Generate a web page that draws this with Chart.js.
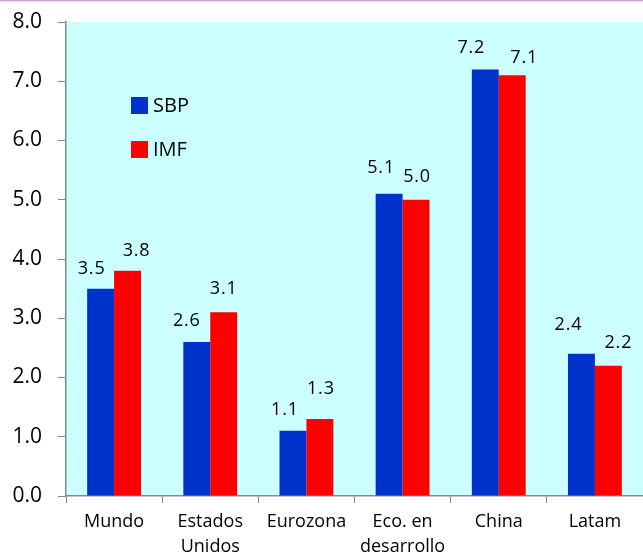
<!DOCTYPE html>
<html><head><meta charset="utf-8">
<script src="https://cdn.jsdelivr.net/npm/chart.js@4/dist/chart.umd.min.js"></script>
<style>html,body{margin:0;padding:0;background:#fff}#wrap{width:643px;height:556px}</style>
</head><body><div id="wrap"><canvas id="c" width="643" height="556"></canvas></div>
<script>
const categories = [["Mundo"], ["Estados", "Unidos"], ["Eurozona"], ["Eco. en", "desarrollo"], ["China"], ["Latam"]];
const sbpValues = [3.5, 2.6, 1.1, 5.1, 7.2, 2.4];
const imfValues = [3.8, 3.1, 1.3, 5.0, 7.1, 2.2];
const seriesNames = ["SBP", "IMF"];
const yTicks = [0, 1, 2, 3, 4, 5, 6, 7, 8];

const FONT = "'Open Sans', 'DejaVu Sans', sans-serif";

const bgPlugin = {
  id: 'bg',
  beforeDraw(chart) {
    const {ctx, chartArea: a} = chart;
    ctx.save();
    ctx.fillStyle = '#ccffff';
    ctx.fillRect(a.left, a.top, a.right - a.left, a.bottom - a.top);
    ctx.fillStyle = '#d8a4d8';
    ctx.fillRect(0, 0, chart.width, 1.5);
    ctx.restore();
  },
  afterDatasetsDraw(chart, args, opts) {
    const {ctx, chartArea: a} = chart;
    ctx.save();
    ctx.font = '18px ' + FONT;
    ctx.fillStyle = '#000';
    ctx.textAlign = 'center';
    ctx.textBaseline = 'middle';
    try { ctx.letterSpacing = '0.8px'; } catch (e) {}
    chart.data.datasets.forEach((ds, i) => {
      const meta = chart.getDatasetMeta(i);
      const dx = opts.dx[i], dy = opts.dy[i];
      meta.data.forEach((bar, j) => {
        ctx.fillText(ds.data[j].toFixed(1), bar.x + dx[j], bar.y - dy[j]);
      });
    });
    try { ctx.letterSpacing = '0px'; } catch (e) {}
    // legend
    chart.data.datasets.forEach((ds, i) => {
      const y = a.top + 83 + i * 44;
      ctx.fillStyle = ds.backgroundColor;
      ctx.fillRect(a.left + 65, y - 8, 17, 17);
      ctx.fillStyle = '#000';
      ctx.font = '20px ' + FONT;
      ctx.textAlign = 'left';
      ctx.textBaseline = 'middle';
      ctx.fillText(ds.label, a.left + 87, y + 1);
    });
    ctx.restore();
  }
};

new Chart(document.getElementById('c'), {
  type: 'bar',
  data: {
    labels: categories,
    datasets: [
      {label: seriesNames[0], data: sbpValues, backgroundColor: '#0033cc', borderWidth: 0},
      {label: seriesNames[1], data: imfValues, backgroundColor: '#ff0000', borderWidth: 0}
    ]
  },
  options: {
    responsive: false,
    animation: false,
    layout: {padding: {top: 22, right: 0, left: 0, bottom: 0}},
    plugins: {
      legend: {display: false}, tooltip: {enabled: false},
      bg: {
        dx: [[-9, -10, -8, -8, -14, -13], [9, 0, 1, 1, 12, 10]],
        dy: [[20, 21, 20.5, 26, 22, 29], [20, 23, 30, 22.5, 17.5, 22.5]]
      }
    },
    datasets: {bar: {categoryPercentage: 0.56, barPercentage: 1.0}},
    scales: {
      x: {
        grid: {display: true, drawOnChartArea: false, drawTicks: true, tickLength: 7, color: '#888', offset: true},
        border: {color: '#888', width: 1.5},
        ticks: {color: '#000', font: {family: FONT, size: 18, lineHeight: 1.35}, padding: 7, maxRotation: 0, autoSkip: false},
        afterFit(s) { s.height = 60; s.paddingLeft = 0; s.paddingRight = 0; }
      },
      y: {
        min: 0, max: 8,
        afterBuildTicks(s) { s.ticks = yTicks.map(v => ({value: v})); },
        grid: {display: true, drawOnChartArea: false, drawTicks: true, tickLength: 8, color: '#888'},
        border: {color: '#888', width: 1.5},
        ticks: {color: '#000', font: {family: FONT, size: 21}, padding: 16, callback: v => Number(v).toFixed(1)},
        afterFit(s) { s.width = 66; s.paddingTop = 0; s.paddingBottom = 0; }
      }
    }
  },
  plugins: [bgPlugin]
});
</script></body></html>
